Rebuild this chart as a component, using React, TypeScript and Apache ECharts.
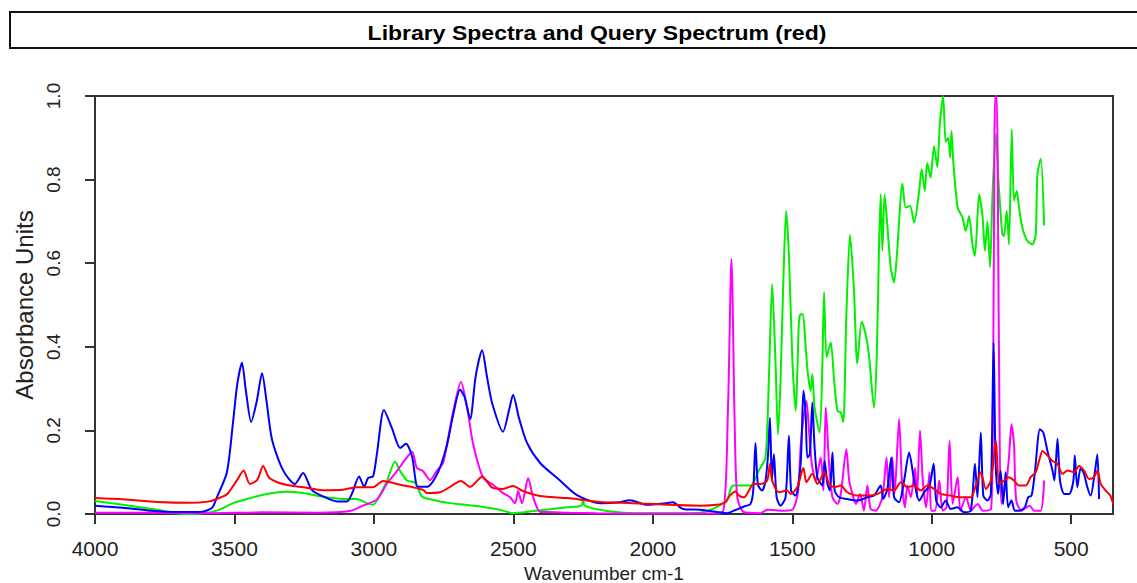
import React, { useEffect, useRef } from "react";
import * as echarts from "echarts";

const TITLE = "Library Spectra and Query Spectrum (red)";
const X_NAME = "Wavenumber cm-1";
const Y_NAME = "Absorbance Units";
const X_TICKS = [4000, 3500, 3000, 2500, 2000, 1500, 1000, 500];

const blueWn = [4000,3900,3800,3700,3620,3580,3563,3527,3505,3490,3473,3460,3440,3420,3401,3385,3365,3326,3283,3254,3222,3182,3132,3096,3078,3053,3035,3021,3003,2989,2964,2935,2906,2885,2863,2842,2810,2770,2740,2715,2691,2675,2655,2635,2612,2595,2576,2537,2515,2501,2480,2451,2404,2343,2272,2189,2120,2082,2021,1960,1928,1892,1830,1770,1733,1709,1673,1650,1640,1632,1623,1608,1596,1587,1580,1573,1566,1556,1542,1524,1512,1504,1488,1470,1460,1452,1446,1437,1428,1420,1410,1392,1384,1374,1365,1356,1348,1332,1303,1267,1231,1207,1183,1174,1159,1145,1135,1117,1099,1081,1063,1045,1027,1008,993,984,968,950,932,908,884,860,845,836,824,815,800,788,778,771,762,753,744,735,726,714,702,684,666,654,642,630,612,600,585,567,560,549,540,525,507,492,487,478,466,454,442,430,416,406,400];
const blueAbs = [0.02,0.015,0.008,0.005,0.005,0.015,0.04,0.1,0.22,0.31,0.362,0.3,0.22,0.27,0.337,0.27,0.177,0.105,0.072,0.098,0.057,0.042,0.03,0.03,0.05,0.09,0.065,0.086,0.09,0.145,0.249,0.205,0.158,0.168,0.137,0.065,0.065,0.1,0.16,0.24,0.297,0.28,0.227,0.33,0.392,0.33,0.265,0.197,0.25,0.285,0.23,0.17,0.122,0.086,0.045,0.026,0.028,0.033,0.022,0.025,0.028,0.012,0.01,0.005,0.002,0.008,0.018,0.024,0.056,0.17,0.07,0.056,0.08,0.14,0.23,0.08,0.143,0.04,0.02,0.04,0.187,0.056,0.044,0.12,0.295,0.24,0.135,0.143,0.267,0.16,0.088,0.068,0.127,0.072,0.056,0.147,0.056,0.04,0.036,0.032,0.04,0.044,0.068,0.036,0.06,0.135,0.04,0.028,0.08,0.147,0.08,0.032,0.052,0.068,0.12,0.032,0.016,0.032,0.012,0.016,0.004,0.008,0.12,0.04,0.195,0.044,0.032,0.048,0.41,0.12,0.048,0.104,0.024,0.1,0.016,0.032,0.008,0.008,0.016,0.04,0.044,0.1,0.203,0.195,0.151,0.104,0.08,0.18,0.08,0.048,0.048,0.08,0.14,0.064,0.11,0.096,0.064,0.044,0.096,0.143,0.036];

const redWn = [4000,3900,3778,3659,3600,3563,3527,3491,3467,3445,3419,3397,3377,3347,3300,3254,3182,3111,3061,3003,2967,2930,2894,2860,2822,2810,2763,2727,2688,2655,2612,2576,2537,2501,2466,2404,2307,2189,2070,1951,1829,1770,1739,1724,1703,1691,1673,1638,1614,1590,1580,1572,1548,1518,1506,1482,1460,1449,1428,1410,1384,1368,1350,1326,1303,1267,1231,1195,1159,1135,1111,1087,1063,1039,1016,992,968,933,897,860,842,824,806,788,770,758,741,723,705,687,663,645,627,615,603,585,567,549,531,513,490,472,454,436,418,406,394,376,360,349];
const redAbs = [0.038,0.035,0.029,0.027,0.029,0.036,0.047,0.081,0.104,0.072,0.081,0.115,0.088,0.076,0.068,0.064,0.057,0.058,0.064,0.064,0.079,0.074,0.068,0.064,0.057,0.05,0.052,0.065,0.079,0.065,0.089,0.063,0.06,0.067,0.055,0.043,0.038,0.029,0.026,0.022,0.02,0.022,0.028,0.044,0.054,0.044,0.04,0.072,0.072,0.08,0.12,0.08,0.052,0.056,0.048,0.064,0.11,0.076,0.096,0.072,0.1,0.072,0.064,0.068,0.052,0.044,0.044,0.048,0.06,0.056,0.076,0.064,0.068,0.056,0.068,0.06,0.048,0.044,0.04,0.04,0.068,0.1,0.06,0.08,0.175,0.072,0.08,0.088,0.08,0.068,0.068,0.088,0.1,0.127,0.151,0.14,0.127,0.12,0.096,0.104,0.1,0.115,0.104,0.084,0.088,0.104,0.072,0.056,0.044,0.024];

const greenWn = [4000,3900,3778,3684,3623,3563,3505,3444,3384,3312,3254,3182,3111,3061,3025,3003,2978,2953,2924,2906,2881,2853,2828,2810,2763,2727,2609,2548,2501,2429,2307,2256,2250,2244,2164,2071,1900,1830,1770,1734,1712,1650,1620,1596,1584,1572,1560,1551,1542,1532,1522,1512,1500,1488,1476,1470,1462,1452,1444,1434,1428,1420,1402,1392,1386,1377,1362,1350,1338,1326,1317,1306,1293,1279,1267,1251,1237,1225,1207,1197,1189,1183,1177,1169,1159,1147,1135,1123,1105,1093,1078,1063,1045,1036,1025,1016,1004,992,980,971,959,950,941,934,929,922,907,890,878,866,854,845,830,818,809,800,791,782,770,761,747,741,731,723,713,705,695,687,675,657,639,627,621,609,597];
const greenAbs = [0.031,0.022,0.01,0,0.001,0.008,0.026,0.038,0.048,0.053,0.05,0.041,0.036,0.036,0.026,0.022,0.046,0.08,0.125,0.103,0.08,0.075,0.042,0.037,0.03,0.026,0.017,0.01,0.002,0.007,0.016,0.02,0.035,0.02,0.007,0.002,0.002,0.003,0.017,0.035,0.068,0.068,0.104,0.135,0.32,0.55,0.36,0.19,0.32,0.558,0.725,0.62,0.375,0.247,0.46,0.478,0.478,0.4,0.335,0.295,0.335,0.255,0.195,0.36,0.53,0.375,0.41,0.32,0.247,0.243,0.22,0.478,0.668,0.54,0.36,0.46,0.43,0.38,0.255,0.38,0.637,0.765,0.63,0.765,0.69,0.59,0.554,0.637,0.79,0.733,0.737,0.697,0.773,0.825,0.773,0.84,0.805,0.88,0.83,0.932,1.0,0.89,0.9,0.853,0.916,0.837,0.733,0.71,0.677,0.713,0.645,0.617,0.765,0.713,0.63,0.7,0.59,0.765,0.91,0.8,0.67,0.665,0.725,0.645,0.92,0.75,0.773,0.733,0.685,0.653,0.645,0.67,0.813,0.85,0.69];

const magentaWn = [4000,3800,3600,3400,3200,3086,3039,2989,2953,2917,2888,2863,2846,2824,2799,2774,2752,2716,2688,2666,2645,2609,2573,2537,2512,2494,2483,2469,2447,2429,2404,2379,2300,2200,2000,1800,1750,1731,1718,1706,1697,1673,1614,1590,1530,1500,1480,1470,1458,1449,1440,1430,1416,1398,1388,1380,1368,1356,1338,1326,1306,1296,1284,1272,1257,1243,1231,1219,1201,1177,1162,1153,1141,1133,1117,1107,1096,1087,1075,1060,1053,1042,1032,1020,1008,1002,988,973,961,947,936,925,907,897,877,859,835,817,787,780,775,772,767,763,760,750,732,723,714,705,697,678,649,633,609,597];
const magentaAbs = [0.003,0.003,0.002,0.004,0.003,0.007,0.02,0.035,0.073,0.103,0.13,0.149,0.11,0.103,0.081,0.104,0.122,0.244,0.316,0.256,0.17,0.088,0.07,0.05,0.04,0.026,0.055,0.026,0.086,0.04,0.005,0.005,0.003,0.002,0.001,0.001,0.003,0.24,0.61,0.2,0.04,0.004,0.002,0.01,0.008,0.01,0.05,0.16,0.24,0.27,0.2,0.12,0.08,0.135,0.056,0.255,0.12,0.04,0.024,0.048,0.155,0.08,0.048,0.024,0.048,0.008,0.068,0.012,0.008,0.04,0.135,0.04,0.135,0.048,0.227,0.08,0.016,0.068,0.04,0.11,0.04,0.2,0.08,0.016,0.1,0.008,0.008,0.08,0.008,0.016,0.175,0.024,0.088,0.008,0.04,0.008,0.024,0.008,0.012,0.3,0.9,1.0,1.0,0.8,0.48,0.024,0.08,0.135,0.215,0.167,0.032,0.008,0.02,0.008,0.008,0.08];

const FONT = "'Liberation Sans', Arial, Helvetica, sans-serif";

function pairs(xs: number[], ys: number[]) {
  return xs.map((x, i) => [x, ys[i]]);
}

function line(name: string, color: string, xs: number[], ys: number[], z: number) {
  return {
    name,
    type: "line",
    data: pairs(xs, ys),
    showSymbol: false,
    symbol: "none",
    smooth: 0.25,
    z,
    lineStyle: { color, width: 2 },
    itemStyle: { color },
  };
}

export default function App() {
  const ref = useRef<HTMLDivElement>(null);
  useEffect(() => {
    if (!ref.current) return;
    const chart = echarts.init(ref.current, null, { renderer: "svg" });
    chart.setOption({
      animation: false,
      backgroundColor: "#ffffff",
      textStyle: { fontFamily: FONT },
      graphic: [
        {
          type: "rect",
          shape: { x: 10, y: 12, width: 1140, height: 36 },
          style: { fill: "none", stroke: "#111", lineWidth: 2 },
        },
        {
          type: "text",
          x: 597,
          y: 33,
          scaleX: 1.15,
          style: {
            text: TITLE,
            fontFamily: FONT,
            fontWeight: "bold",
            fontSize: 20,
            fill: "#000",
            textAlign: "center",
            textVerticalAlign: "middle",
          },
        },
      ],
      grid: {
        left: 95,
        right: 24,
        top: 96,
        bottom: 69,
        show: true,
        borderColor: "#333",
        borderWidth: 2,
        backgroundColor: "transparent",
        containLabel: false,
        outerBoundsMode: "none",
      },
      xAxis: {
        type: "value",
        inverse: true,
        min: 350,
        max: 4000,
        name: X_NAME,
        nameLocation: "middle",
        nameGap: 47,
        nameTextStyle: { fontSize: 19, color: "#222", fontFamily: FONT },
        axisLine: { show: false },
        splitLine: { show: false },
        axisTick: {
          show: true,
          length: 10,
          lineStyle: { color: "#333", width: 2 },
          customValues: X_TICKS,
        },
        axisLabel: {
          fontSize: 21,
          color: "#222",
          margin: 24,
          customValues: X_TICKS,
          fontFamily: FONT,
          formatter: (v: number) => String(v),
        },
      },
      yAxis: {
        type: "value",
        min: 0,
        max: 1,
        interval: 0.2,
        name: Y_NAME,
        nameLocation: "middle",
        nameRotate: 90,
        nameGap: 55,
        nameTextStyle: { fontSize: 24, color: "#222", fontFamily: FONT },
        axisLine: { show: false },
        splitLine: { show: false },
        axisTick: { show: true, length: 10, lineStyle: { color: "#333", width: 2 } },
        axisLabel: {
          rotate: 90,
          fontSize: 19,
          color: "#222",
          margin: 32,
          fontFamily: FONT,
          formatter: (v: number) => v.toFixed(1),
        },
      },
      series: [
        line("green", "#00f000", greenWn, greenAbs, 2),
        line("magenta", "#ff00ff", magentaWn, magentaAbs, 3),
        line("blue", "#0000ff", blueWn, blueAbs, 4),
        line("red", "#ff0000", redWn, redAbs, 5),
      ],
    });
    return () => chart.dispose();
  }, []);
  return (
    <div
      ref={ref}
      style={{ position: "absolute", left: 0, top: 0, width: 1137, height: 583 }}
    />
  );
}
